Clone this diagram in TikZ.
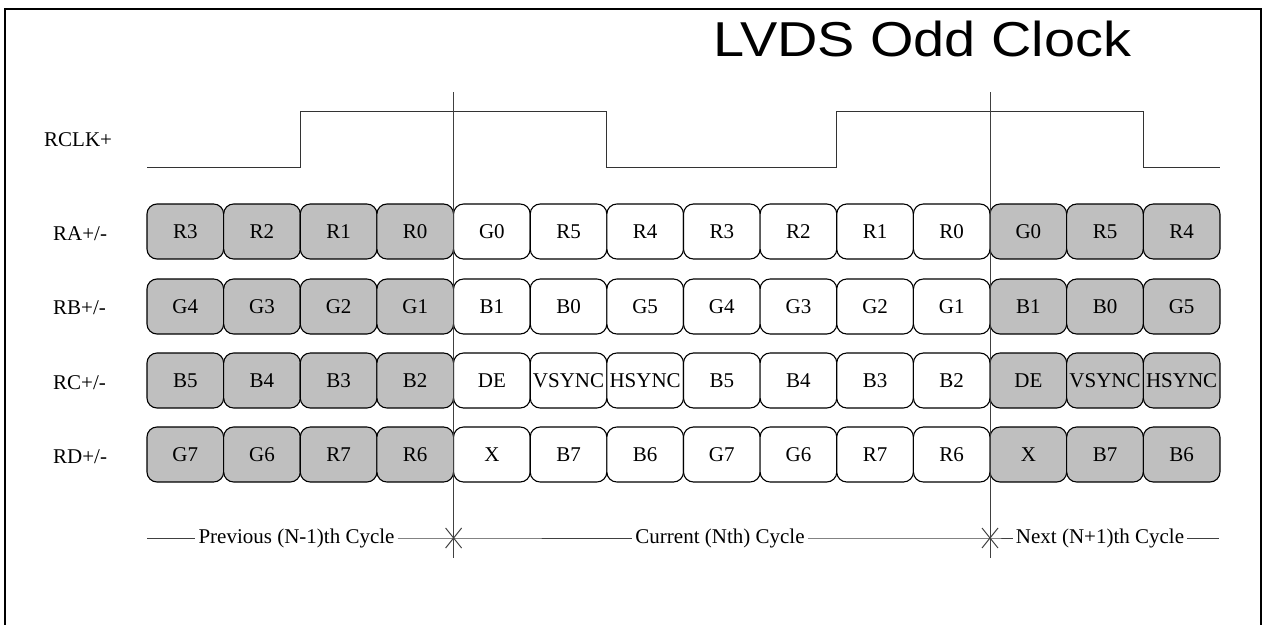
\documentclass[tikz,border=0pt]{standalone}
\usepackage{fontspec}
\setmainfont{Liberation Serif}
\newfontfamily\titlefont{Liberation Sans}
\newcommand{\drawcellrow}[3]{%
  \foreach \t [count=\i] in {#3} {
    \pgfmathsetmacro{\xx}{147+(\i-0.5)*76.64}
    \ifnum\i<5
      \node[graycell] (r#1\i) at (\xx,#2) {\t};
    \else\ifnum\i>11
      \node[graycell] (r#1\i) at (\xx,#2) {\t};
    \else
      \node[whitecell] (r#1\i) at (\xx,#2) {\t};
    \fi\fi
  }}
\begin{document}
\begin{tikzpicture}[x=1pt,y=-1pt,
  txt/.style={font=\fontsize{21}{24}\selectfont, inner sep=0pt},
  cell/.style={draw=black, line width=1.1pt, rounded corners=10pt,
    minimum width=76.64pt, minimum height=55pt, inner sep=0pt,
    font=\fontsize{21}{24}\selectfont},
  graycell/.style={cell, fill=black!25},
  whitecell/.style={cell, fill=white},
  wave/.style={line width=1pt, draw=black!80},
  marker/.style={line width=1pt, draw=black!75},
  cyc/.style={font=\fontsize{21}{24}\selectfont, inner sep=3pt}]
\useasboundingbox (0,0) rectangle (1266,624);
% frame
\draw[line width=2pt] (5,640) -- (5,9) -- (1261,9) -- (1261,640);
% title
\node[anchor=base west, inner sep=0pt] (title) at (713,56)
  {\scalebox{1.14}[1]{\titlefont\fontsize{49}{55}\selectfont LVDS Odd Clock}};
% labels
\node[txt, anchor=west] (lclk) at (44,140) {RCLK+};
\node[txt, anchor=west] (lra) at (53,234) {RA+/-};
\node[txt, anchor=west] (lrb) at (53,308) {RB+/-};
\node[txt, anchor=west] (lrc) at (53,383) {RC+/-};
\node[txt, anchor=west] (lrd) at (53,457) {RD+/-};
% clock
\coordinate (k0) at (147,167);
\coordinate (k1) at (300.3,167);
\coordinate (k2) at (300.3,111);
\coordinate (k3) at (606.8,111);
\coordinate (k4) at (606.8,167);
\coordinate (k5) at (836.8,167);
\coordinate (k6) at (836.8,111);
\coordinate (k7) at (1143.3,111);
\coordinate (k8) at (1143.3,167);
\coordinate (k9) at (1220,167);
\draw[wave] (k0) -- (k1) -- (k2) -- (k3) -- (k4) -- (k5) -- (k6) -- (k7) -- (k8) -- (k9);
% data cells
\drawcellrow{A}{231.5}{R3,R2,R1,R0,G0,R5,R4,R3,R2,R1,R0,G0,R5,R4}
\drawcellrow{B}{306.5}{G4,G3,G2,G1,B1,B0,G5,G4,G3,G2,G1,B1,B0,G5}
\drawcellrow{C}{380.5}{B5,B4,B3,B2,DE,VSYNC,HSYNC,B5,B4,B3,B2,DE,VSYNC,HSYNC}
\drawcellrow{D}{454.5}{G7,G6,R7,R6,X,B7,B6,G7,G6,R7,R6,X,B7,B6}
% cycle boundaries
\coordinate (v1t) at (453.6,92);
\coordinate (v1b) at (453.6,558);
\coordinate (v2t) at (990,92);
\coordinate (v2b) at (990,558);
\draw[marker] (v1t) -- (v1b);
\draw[marker] (v2t) -- (v2b);
% cycle labels
\node[cyc] (prev) at (296.5,538) {Previous (N-1)th Cycle};
\node[cyc] (cur) at (720,538) {Current (Nth) Cycle};
\node[cyc] (next) at (1100,538) {Next (N+1)th Cycle};
\coordinate (c0) at (147,538);
\coordinate (x1) at (453.6,538);
\coordinate (x2) at (990,538);
\coordinate (c9) at (1219,538);
\draw[marker] (c0) -- (prev.west);
\draw[marker] (prev.east) -- (x1) -- (cur.west);
\draw[marker] (cur.east) -- (x2) -- (next.west);
\draw[marker] (next.east) -- (c9);
\draw[marker] ([shift={(-8,-10)}]x1) -- ([shift={(8,10)}]x1);
\draw[marker] ([shift={(-8,10)}]x1) -- ([shift={(8,-10)}]x1);
\draw[marker] ([shift={(-8,-10)}]x2) -- ([shift={(8,10)}]x2);
\draw[marker] ([shift={(-8,10)}]x2) -- ([shift={(8,-10)}]x2);
\end{tikzpicture}
\end{document}
